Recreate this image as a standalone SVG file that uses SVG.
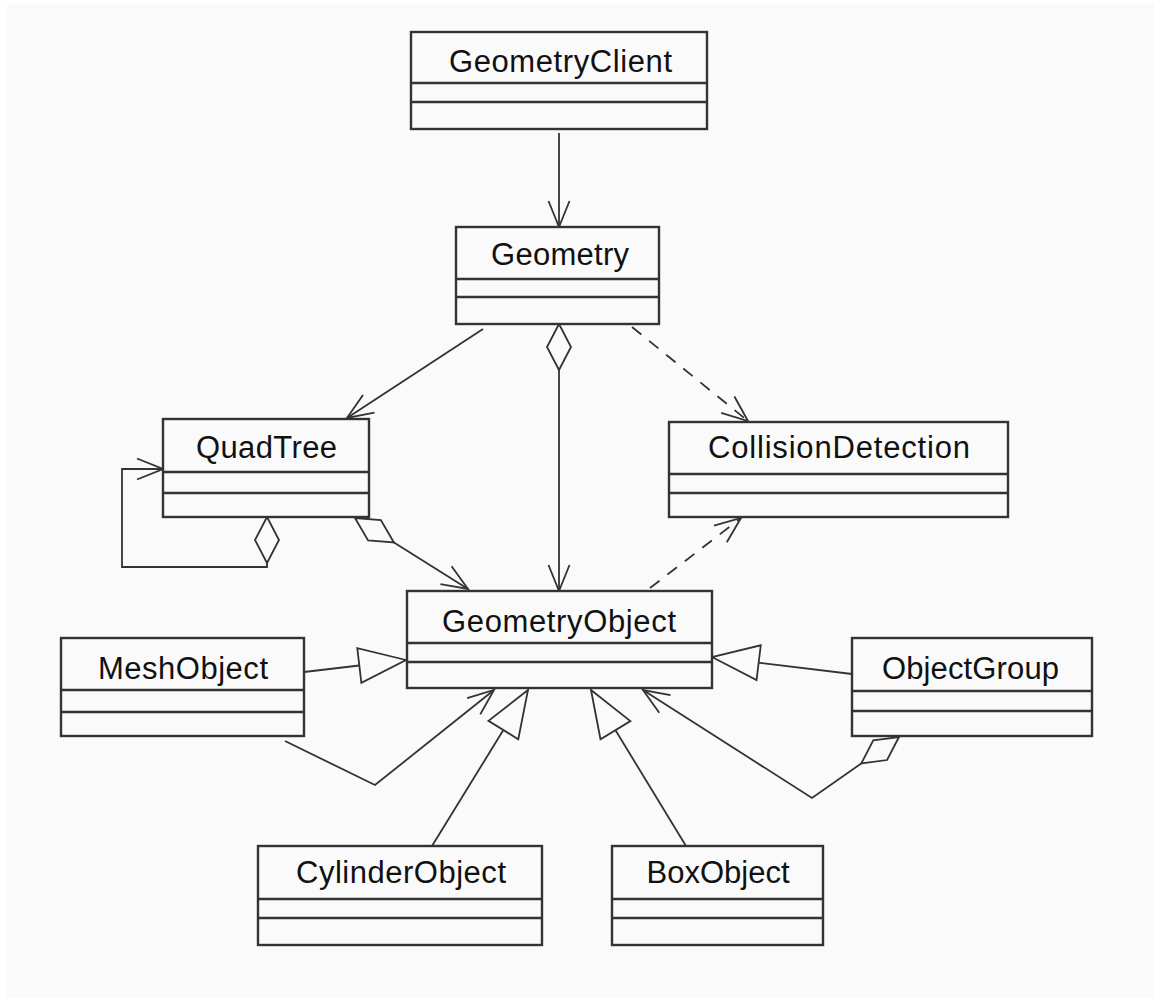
<svg xmlns="http://www.w3.org/2000/svg" width="1154" height="998" viewBox="0 0 1154 998">
<style>
.box{fill:#fafafa;stroke:#333;stroke-width:2.4}
.sep{stroke:#333;stroke-width:2.4}
.lbl{font-family:"Liberation Sans",Arial,sans-serif;font-size:31px;fill:#111;text-anchor:middle}
.c{fill:none;stroke:#333;stroke-width:1.8}
.d{stroke-dasharray:12 10}
</style>
<defs>
<marker id="arr" markerUnits="userSpaceOnUse" viewBox="-30 -15 32 30" markerWidth="32" markerHeight="30" refX="0" refY="0" orient="auto">
<path d="M-26,-10.5 L0,0 L-26,10.5" fill="none" stroke="#333" stroke-width="1.8" stroke-dasharray="none"/>
</marker>
<marker id="dia" markerUnits="userSpaceOnUse" viewBox="-2 -15 52 30" markerWidth="52" markerHeight="30" refX="0" refY="0" orient="auto">
<path d="M0,0 L23,-12 L46,0 L23,12 Z" fill="#fafafa" stroke="#333" stroke-width="1.8" stroke-dasharray="none"/>
</marker>
<marker id="tri" markerUnits="userSpaceOnUse" viewBox="-50 -20 52 40" markerWidth="52" markerHeight="40" refX="0" refY="0" orient="auto">
<path d="M0,0 L-47,-17.5 L-47,17.5 Z" fill="#fafafa" stroke="#333" stroke-width="1.8" stroke-dasharray="none"/>
</marker>
</defs>
<rect width="1154" height="998" fill="#ffffff"/>
<rect x="7" y="4" width="1147" height="994" fill="#fafafa"/>

<g id="connectors">
<path class="c" d="M559,133 L559,227" marker-end="url(#arr)"/>
<path class="c" d="M483,329 L347,418" marker-end="url(#arr)"/>
<path class="c" d="M559,324 L559,591" marker-start="url(#dia)" marker-end="url(#arr)"/>
<path class="c d" d="M632,327 L748,421" marker-end="url(#arr)"/>
<path class="c d" d="M650,588 L741,518" marker-end="url(#arr)"/>
<path class="c" d="M267,517 L267,567 L122,567 L122,469 L163,469" marker-start="url(#dia)" marker-end="url(#arr)"/>
<path class="c" d="M355,518 L468,589" marker-start="url(#dia)" marker-end="url(#arr)"/>
<path class="c" d="M304,672 L406,660" marker-end="url(#tri)"/>
<path class="c" d="M852,674 L712,657" marker-end="url(#tri)"/>
<path class="c" d="M432,846 L528,690" marker-end="url(#tri)"/>
<path class="c" d="M686,846 L591,690" marker-end="url(#tri)"/>
<path class="c" d="M285,741 L375,785 L494,690" marker-end="url(#arr)"/>
<path class="c" d="M899,737 L812,798 L643,690" marker-start="url(#dia)" marker-end="url(#arr)"/>
</g>

<g id="GeometryClient">
<rect class="box" x="411" y="32" width="296" height="97"/>
<line class="sep" x1="411" y1="83" x2="707" y2="83"/>
<line class="sep" x1="411" y1="102" x2="707" y2="102"/>
<text class="lbl" x="560.5" y="72" textLength="223">GeometryClient</text>
</g>

<g id="Geometry">
<rect class="box" x="456" y="227" width="203" height="97"/>
<line class="sep" x1="456" y1="279" x2="659" y2="279"/>
<line class="sep" x1="456" y1="297" x2="659" y2="297"/>
<text class="lbl" x="560" y="265" textLength="138">Geometry</text>
</g>

<g id="QuadTree">
<rect class="box" x="163" y="419" width="206" height="98"/>
<line class="sep" x1="163" y1="472" x2="369" y2="472"/>
<line class="sep" x1="163" y1="493" x2="369" y2="493"/>
<text class="lbl" x="266.5" y="458" textLength="141">QuadTree</text>
</g>

<g id="CollisionDetection">
<rect class="box" x="669" y="422" width="339" height="95"/>
<line class="sep" x1="669" y1="474" x2="1008" y2="474"/>
<line class="sep" x1="669" y1="493" x2="1008" y2="493"/>
<text class="lbl" x="839" y="458" textLength="262">CollisionDetection</text>
</g>

<g id="GeometryObject">
<rect class="box" x="407" y="591" width="305" height="97"/>
<line class="sep" x1="407" y1="643" x2="712" y2="643"/>
<line class="sep" x1="407" y1="662" x2="712" y2="662"/>
<text class="lbl" x="559" y="632" textLength="234">GeometryObject</text>
</g>

<g id="MeshObject">
<rect class="box" x="61" y="638" width="243" height="98"/>
<line class="sep" x1="61" y1="690" x2="304" y2="690"/>
<line class="sep" x1="61" y1="712" x2="304" y2="712"/>
<text class="lbl" x="183" y="679" textLength="170">MeshObject</text>
</g>

<g id="ObjectGroup">
<rect class="box" x="852" y="638" width="240" height="98"/>
<line class="sep" x1="852" y1="691" x2="1092" y2="691"/>
<line class="sep" x1="852" y1="711" x2="1092" y2="711"/>
<text class="lbl" x="970.5" y="679" textLength="177">ObjectGroup</text>
</g>

<g id="CylinderObject">
<rect class="box" x="258" y="846" width="284" height="99"/>
<line class="sep" x1="258" y1="899" x2="542" y2="899"/>
<line class="sep" x1="258" y1="918" x2="542" y2="918"/>
<text class="lbl" x="401" y="883" textLength="210">CylinderObject</text>
</g>

<g id="BoxObject">
<rect class="box" x="612" y="846" width="211" height="99"/>
<line class="sep" x1="612" y1="899" x2="823" y2="899"/>
<line class="sep" x1="612" y1="918" x2="823" y2="918"/>
<text class="lbl" x="718" y="883" textLength="143">BoxObject</text>
</g>
</svg>
